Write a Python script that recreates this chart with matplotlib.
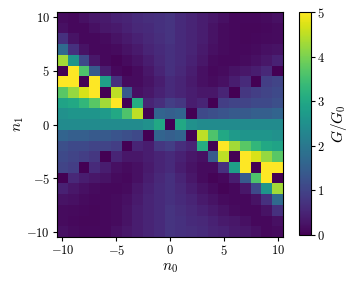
import matplotlib
matplotlib.use("Agg")
import matplotlib.pyplot as plt
import numpy as np

plt.rcParams['mathtext.fontset'] = 'cm'
plt.rcParams['font.family'] = ['DejaVu Serif']

n0 = list(range(-10, 11))
n1 = list(range(10, -11, -1))

row_p10 = [0.15,0.1,0.2,0.3,0.35,0.45,0.5,0.6,0.65,0.7,0.75, 0.6,0.5,0.4,0.3,0.2,0.1,0.1,0.1,0.15,0.2]
row_p9  = [0.2,0.1,0.1,0.2,0.3,0.35,0.45,0.55,0.6,0.7,0.75, 0.6,0.5,0.4,0.25,0.15,0.1,0.08,0.08,0.1,0.15]
row_p8  = [0.7,0.25,0.1,0.1,0.15,0.25,0.35,0.45,0.55,0.65,0.75, 0.6,0.5,0.4,0.25,0.15,0.1,0.08,0.1,0.12,0.15]
row_p7  = [1.7,0.7,0.25,0.1,0.1,0.15,0.25,0.35,0.5,0.6,0.7, 0.6,0.5,0.35,0.2,0.15,0.1,0.1,0.15,0.2,0.25]
row_p6  = [4.3,2.6,1.1,0.3,0.1,0.05,0.15,0.25,0.4,0.55,0.7, 0.6,0.45,0.3,0.15,0.1,0.1,0.15,0.2,0.3,0.45]
row_p5  = [0.0,5.0,3.6,1.4,0.4,0.1,0.05,0.15,0.3,0.5,0.7, 0.55,0.4,0.2,0.1,0.15,0.25,0.3,0.4,0.55,0.0]
row_p4  = [5.0,5.0,0.0,5.0,2.8,0.7,0.15,0.15,0.25,0.4,0.6, 0.5,0.35,0.2,0.15,0.2,0.4,0.6,0.0,0.9,1.0]
row_p3  = [3.7,4.2,4.7,5.0,0.0,4.5,1.4,0.2,0.3,0.45,0.6, 0.5,0.4,0.3,0.3,0.5,0.0,0.8,0.9,1.0,1.1]
row_p2  = [2.9,3.0,3.3,3.7,4.3,5.0,0.0,3.1,0.5,0.65,0.9, 0.8,0.4,0.5,0.0,0.9,1.0,1.0,1.1,1.1,1.2]
row_p1  = [2.5,2.6,2.6,2.6,2.7,3.0,3.6,4.5,0.0,1.6,1.5, 1.6,0.0,1.1,1.2,1.3,1.4,1.4,1.5,1.5,1.6]
row_0   = [2.4,2.4,2.4,2.4,2.4,2.4,2.4,2.4,2.5,3.0,0.0, 3.0,2.5,2.4,2.4,2.4,2.4,2.4,2.4,2.4,2.4]
row_m1  = [1.6,1.5,1.5,1.4,1.4,1.3,1.2,1.1,0.0,1.6,1.5, 1.6,0.0,4.5,3.6,3.0,2.7,2.6,2.6,2.6,2.5]
row_m2  = [1.2,1.1,1.1,1.0,1.0,0.9,0.0,0.5,0.4,0.8,0.9, 0.65,0.5,3.1,0.0,5.0,4.3,3.7,3.3,3.0,2.9]
row_m3  = [1.1,1.0,0.9,0.8,0.0,0.5,0.3,0.3,0.4,0.5,0.6, 0.45,0.3,0.2,1.4,4.5,0.0,5.0,4.7,4.2,3.7]
row_m4  = [1.0,0.9,0.0,0.6,0.4,0.2,0.15,0.2,0.35,0.5,0.6, 0.4,0.25,0.15,0.15,0.7,2.8,5.0,0.0,5.0,5.0]
row_m5  = [0.0,0.55,0.4,0.3,0.25,0.15,0.1,0.2,0.4,0.55,0.7, 0.5,0.3,0.15,0.05,0.1,0.4,1.4,3.6,5.0,0.0]
row_m6  = [0.45,0.3,0.2,0.15,0.1,0.1,0.15,0.3,0.45,0.6,0.7, 0.55,0.4,0.25,0.15,0.05,0.1,0.3,1.1,2.6,4.3]
row_m7  = [0.25,0.2,0.15,0.1,0.1,0.15,0.2,0.35,0.5,0.6,0.7, 0.6,0.5,0.35,0.25,0.15,0.1,0.1,0.25,0.7,1.7]
row_m8  = [0.15,0.12,0.1,0.08,0.1,0.15,0.25,0.4,0.5,0.6,0.75, 0.65,0.55,0.45,0.35,0.25,0.15,0.1,0.1,0.25,0.7]
row_m9  = [0.15,0.1,0.08,0.08,0.1,0.15,0.25,0.4,0.5,0.6,0.75, 0.7,0.6,0.55,0.45,0.35,0.3,0.2,0.1,0.1,0.2]
row_m10 = [0.2,0.15,0.1,0.1,0.1,0.2,0.3,0.4,0.5,0.6,0.75, 0.7,0.65,0.6,0.5,0.45,0.35,0.3,0.2,0.1,0.15]

rows = [row_p10, row_p9, row_p8, row_p7, row_p6, row_p5, row_p4, row_p3, row_p2, row_p1,
        row_0, row_m1, row_m2, row_m3, row_m4, row_m5, row_m6, row_m7, row_m8, row_m9, row_m10]
G = np.array(rows)

ticks = [-10, -5, 0, 5, 10]
tick_labels = [r'$-10$', r'$-5$', r'$0$', r'$5$', r'$10$']
cbar_ticks = [0, 1, 2, 3, 4, 5]
cbar_labels = [r'$0$', r'$1$', r'$2$', r'$3$', r'$4$', r'$5$']

fig = plt.figure(figsize=(3.53, 2.82), dpi=100)
ax = fig.add_axes([57/353, 45/282, 226/353, 225/282])
cax = fig.add_axes([299/353, 47/282, 11.5/353, 223/282])

mesh = ax.pcolormesh(n0, n1, G, shading='nearest', cmap='viridis', vmin=0, vmax=5)
ax.set_xlim(-10.5, 10.5)
ax.set_ylim(-10.5, 10.5)
ax.set_xticks(ticks)
ax.set_xticklabels(tick_labels, fontsize=9)
ax.set_yticks(ticks)
ax.set_yticklabels(tick_labels, fontsize=9)
ax.tick_params(length=3, width=0.8, pad=2)
ax.set_xlabel(r'$n_0$', fontsize=11, labelpad=2)
ax.set_ylabel(r'$n_1$', fontsize=11, labelpad=0)

cb = fig.colorbar(mesh, cax=cax)
cb.set_ticks(cbar_ticks)
cb.set_ticklabels(cbar_labels, fontsize=9)
cb.ax.tick_params(length=3, width=0.8, pad=2)
cb.set_label(r'$G/G_0$', fontsize=11, labelpad=3)
cb.outline.set_linewidth(0.8)

fig.savefig('out.png', dpi=100)
